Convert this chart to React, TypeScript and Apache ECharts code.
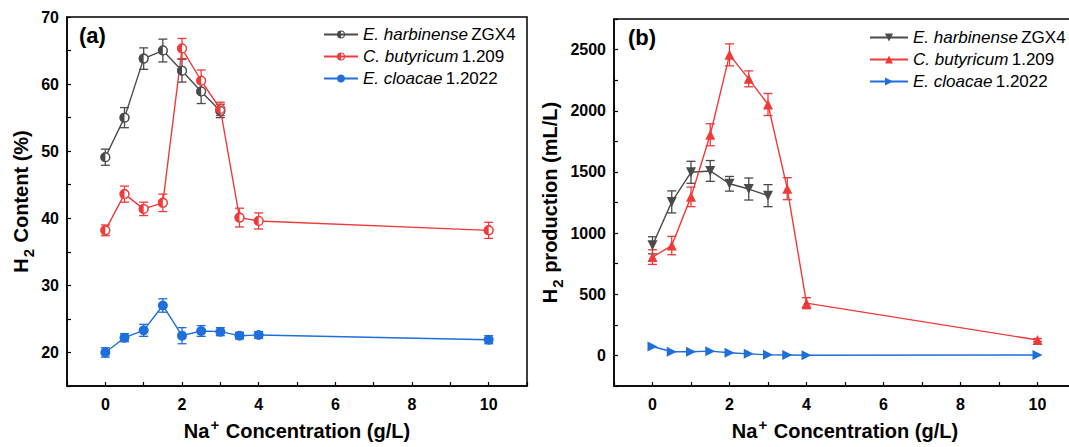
import React, { useEffect, useRef } from "react";
import * as echarts from "echarts";

const xHarb = [0, 0.5, 1, 1.5, 2, 2.5, 3];
const xAll = [0, 0.5, 1, 1.5, 2, 2.5, 3, 3.5, 4, 10];

const contentHarb = [49.1, 55.0, 63.8, 65.0, 62.0, 58.9, 56.0];
const contentHarbErr = [1.2, 1.5, 1.6, 1.7, 1.7, 1.8, 1.0];
const contentButy = [38.2, 43.6, 41.4, 42.3, 65.3, 60.5, 56.3, 40.1, 39.6, 38.2];
const contentButyErr = [0.8, 1.2, 1.0, 1.3, 1.5, 1.6, 1.0, 1.4, 1.2, 1.2];
const contentCloa = [20.0, 22.2, 23.3, 27.0, 22.5, 23.2, 23.1, 22.5, 22.6, 21.9];
const contentCloaErr = [0.7, 0.6, 0.9, 1.0, 1.2, 0.8, 0.6, 0.5, 0.5, 0.6];

const prodHarb = [900, 1255, 1497, 1508, 1403, 1360, 1306];
const prodHarbErr = [70, 90, 90, 85, 60, 90, 90];
const prodButy = [804, 898, 1296, 1804, 2457, 2261, 2051, 1363, 427, 126];
const prodButyErr = [60, 75, 80, 90, 90, 65, 90, 90, 45, 12];
const prodCloa = [73, 30, 30, 35, 22, 13, 5, 3, 1, 3];
const prodCloaErr = [0, 0, 0, 0, 0, 0, 0, 0, 0, 0];

const xTickLabels = [0, 2, 4, 6, 8, 10];
const yTickLabelsA = [20, 30, 40, 50, 60, 70];
const yTickLabelsB = [0, 500, 1000, 1500, 2000, 2500];

const GREY = "#4a4a4a";
const RED = "#f03a3a";
const BLUE = "#1e6fdc";
const FONT = "Liberation Sans, Arial, sans-serif";

const HALF =
  "path://M10 0A10 10 0 1 1 10 20A10 10 0 1 1 10 0ZM10 2.6A7.4 7.4 0 1 0 10 17.4A7.4 7.4 0 1 0 10 2.6ZM10 17.4A7.4 7.4 0 0 1 10 2.6Z";
const DOWN = "path://M0 0L10 0L5 9Z";
const UP = "path://M5 0L10 9L0 9Z";
const RIGHT = "path://M0 0L9 5L0 10Z";

const legendNames: Record<string, [string, string]> = {
  ha: ["E. harbinense", "ZGX4"],
  ba: ["C. butyricum", "1.209"],
  ca: ["E. cloacae", "1.2022"],
  hb: ["E. harbinense", "ZGX4"],
  bb: ["C. butyricum", "1.209"],
  cb: ["E. cloacae", "1.2022"],
};

function pairs(xs: number[], ys: number[]) {
  return xs.map((x, i) => [x, ys[i]]);
}
function errs(xs: number[], ys: number[], es: number[]) {
  return xs.map((x, i) => [x, ys[i] - es[i], ys[i] + es[i]]);
}

function errorSeries(data: number[][], color: string, gi: number) {
  return {
    type: "custom",
    xAxisIndex: gi,
    yAxisIndex: gi,
    z: 1,
    silent: true,
    encode: { x: 0, y: [1, 2] },
    data,
    renderItem: (params: any, api: any) => {
      const x = api.value(0);
      const lo = api.coord([x, api.value(1)]);
      const hi = api.coord([x, api.value(2)]);
      if (Math.abs(lo[1] - hi[1]) < 1) return { type: "group", children: [] };
      const w = 4.5;
      const st = { stroke: color, lineWidth: 1.3 };
      return {
        type: "group",
        children: [
          { type: "line", shape: { x1: lo[0], y1: lo[1], x2: hi[0], y2: hi[1] }, style: st },
          { type: "line", shape: { x1: lo[0] - w, y1: lo[1], x2: lo[0] + w, y2: lo[1] }, style: st },
          { type: "line", shape: { x1: hi[0] - w, y1: hi[1], x2: hi[0] + w, y2: hi[1] }, style: st },
        ],
      };
    },
  };
}

function lineSeries(name: string, data: number[][], color: string, gi: number, symbol: string, size: number, fill: string) {
  return {
    type: "line",
    name,
    xAxisIndex: gi,
    yAxisIndex: gi,
    data,
    z: 3,
    symbol,
    symbolSize: size,
    showAllSymbol: true,
    lineStyle: { color, width: 1.4 },
    itemStyle: { color: fill, borderColor: color, borderWidth: 0 },
  };
}

function overlay(data: number[][], color: string, gi: number, z: number, symbol: string, size: number) {
  return {
    type: "scatter",
    xAxisIndex: gi,
    yAxisIndex: gi,
    data,
    z,
    silent: true,
    symbol,
    symbolSize: size,
    itemStyle: { color, opacity: 1 },
  };
}

function xAxis(gi: number) {
  return {
    type: "value",
    gridIndex: gi,
    min: -1,
    max: 11,
    interval: 1,
    name: "{b|Na}{sup|+}{b| Concentration (g/L)}",
    nameLocation: "middle",
    nameGap: 31,
    nameTextStyle: {
      rich: {
        b: { fontFamily: FONT, fontWeight: "bold", fontSize: 20, color: "#000", verticalAlign: "bottom", lineHeight: 24 },
        sup: { fontFamily: FONT, fontWeight: "bold", fontSize: 15, color: "#000", verticalAlign: "top", lineHeight: 24, padding: [0, 1, 10, 1] },
      },
    },
    axisLine: { show: true, onZero: false, lineStyle: { color: "#000", width: 1.5 } },
    axisTick: { show: true, inside: true, length: 4, lineStyle: { color: "#000", width: 1.2 } },
    splitLine: { show: false },
    axisLabel: {
      margin: 10,
      fontFamily: FONT,
      fontWeight: "bold",
      fontSize: 16,
      color: "#000",
      formatter: (v: number) => (xTickLabels.includes(v) ? String(v) : ""),
    },
  };
}

function yAxis(gi: number, min: number, max: number, interval: number, labels: number[], nameRich: string, gap: number) {
  return {
    type: "value",
    gridIndex: gi,
    min,
    max,
    interval,
    name: nameRich,
    nameLocation: "middle",
    nameGap: gap,
    nameTextStyle: {
      rich: {
        b: { fontFamily: FONT, fontWeight: "bold", fontSize: 20, color: "#000", lineHeight: 24, verticalAlign: "top" },
        sub: { fontFamily: FONT, fontWeight: "bold", fontSize: 15, color: "#000", lineHeight: 24, verticalAlign: "top", padding: [10, 1, 0, 1] },
      },
    },
    axisLine: { show: true, onZero: false, lineStyle: { color: "#000", width: 1.5 } },
    axisTick: { show: true, inside: true, length: 4, lineStyle: { color: "#000", width: 1.2 } },
    splitLine: { show: false },
    axisLabel: {
      margin: 8,
      fontFamily: FONT,
      fontWeight: "bold",
      fontSize: 16,
      color: "#000",
      formatter: (v: number) => (labels.includes(v) ? String(v) : ""),
    },
  };
}

function legend(data: string[], left: number, top: number, itemWidth: number) {
  return {
    data,
    left,
    top,
    orient: "vertical",
    itemWidth,
    itemHeight: 10,
    itemGap: 5,
    selectedMode: false,
    formatter: (n: string) => `{i|${legendNames[n][0]}} {n|${legendNames[n][1]}}`,
    textStyle: {
      rich: {
        i: { fontFamily: FONT, fontStyle: "italic", fontSize: 17, color: "#000", lineHeight: 15 },
        n: { fontFamily: FONT, fontSize: 17, color: "#000", lineHeight: 15 },
      },
    },
  };
}

export default function App() {
  const ref = useRef<HTMLDivElement>(null);
  useEffect(() => {
    const chart = echarts.init(ref.current!, null, { renderer: "svg" });
    const hA = pairs(xHarb, contentHarb);
    const bA = pairs(xAll, contentButy);
    const cA = pairs(xAll, contentCloa);
    const hB = pairs(xHarb, prodHarb);
    const bB = pairs(xAll, prodButy);
    const cB = pairs(xAll, prodCloa);
    chart.setOption({
      animation: false,
      backgroundColor: "#fff",
      grid: [
        { left: 67, top: 17, width: 460, height: 383, show: true, borderColor: "#000", borderWidth: 1.5, backgroundColor: "transparent" },
        { left: 614, top: 19, width: 462, height: 387, show: true, borderColor: "#000", borderWidth: 1.5, backgroundColor: "transparent" },
      ],
      xAxis: [xAxis(0), xAxis(1)],
      yAxis: [
        yAxis(0, 15, 70, 5, yTickLabelsA, "{b|H}{sub|2}{b| Content (%)}", 32),
        yAxis(1, -250, 2750, 250, yTickLabelsB, "{b|H}{sub|2}{b| production (mL/L)}", 50),
      ],
      legend: [legend(["ha", "ba", "ca"], 318, 21, 34), legend(["hb", "bb", "cb"], 864, 24, 38)],
      graphic: [
        { type: "text", left: 79, top: 24, style: { text: "(a)", fontFamily: FONT, fontWeight: "bold", fontSize: 22, fill: "#000" } },
        { type: "text", left: 628, top: 26, style: { text: "(b)", fontFamily: FONT, fontWeight: "bold", fontSize: 22, fill: "#000" } },
      ],
      series: [
        errorSeries(errs(xHarb, contentHarb, contentHarbErr), GREY, 0),
        errorSeries(errs(xAll, contentButy, contentButyErr), RED, 0),
        errorSeries(errs(xAll, contentCloa, contentCloaErr), BLUE, 0),
        lineSeries("ha", hA, GREY, 0, HALF, 10, GREY),
        lineSeries("ba", bA, RED, 0, HALF, 10, RED),
        lineSeries("ca", cA, BLUE, 0, "circle", 10, BLUE),
        overlay(hA, "#fff", 0, 4, "circle", 9),
        overlay(hA, GREY, 0, 5, HALF, 10),
        overlay(bA, "#fff", 0, 4, "circle", 9),
        overlay(bA, RED, 0, 5, HALF, 10),
        errorSeries(errs(xHarb, prodHarb, prodHarbErr), GREY, 1),
        errorSeries(errs(xAll, prodButy, prodButyErr), RED, 1),
        errorSeries(errs(xAll, prodCloa, prodCloaErr), BLUE, 1),
        lineSeries("hb", hB, GREY, 1, DOWN, 10, GREY),
        lineSeries("bb", bB, RED, 1, UP, 10, RED),
        lineSeries("cb", cB, BLUE, 1, RIGHT, 10, BLUE),
      ],
    });
    return () => chart.dispose();
  }, []);
  return <div ref={ref} style={{ position: "fixed", left: 0, top: 0, width: 1080, height: 447 }} />;
}
